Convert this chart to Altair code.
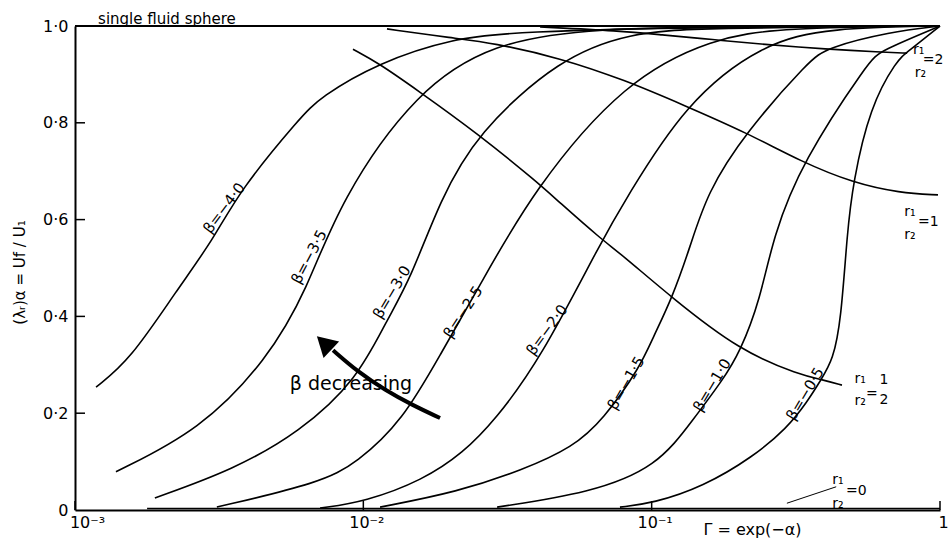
import altair as alt
import pandas as pd

PLOT_W, PLOT_H = 865, 484
FONT = "DejaVu Sans"
INK = "black"

# ---- axis ticks -------------------------------------------------------
x_tick_values = [0.001, 0.01, 0.1, 1.0]
x_tick_labels = ["10⁻³", "10⁻²", "10⁻¹", "1"]
y_tick_values = [0.0, 0.2, 0.4, 0.6, 0.8, 1.0]
y_tick_labels = ["0", "0·2", "0·4", "0·6", "0·8", "1·0"]

# ---- beta curves: log10(Γ) and (λr)α -------------------------------------
beta_names = ["β=−4·0", "β=−3·5", "β=−3·0", "β=−2·5",
              "β=−2·0", "β=−1·5", "β=−1·0", "β=−0·5"]

b40_lg = [-2.927, -2.809, -2.646, -2.521, -2.428, -2.220, -2.150, -1.949, -1.689, -1.464, -0.83, 0.0]
b40_v = [0.254, 0.310, 0.455, 0.558, 0.661, 0.810, 0.853, 0.924, 0.975, 0.988, 0.998, 1.0]

b35_lg = [-2.858, -2.566, -2.334, -2.195, -2.081, -1.814, -1.550, -1.214, -0.6, 0.0]
b35_v = [0.079, 0.165, 0.310, 0.455, 0.640, 0.868, 0.965, 0.996, 0.999, 1.0]

b30_lg = [-2.723, -2.452, -2.220, -2.022, -1.918, -1.838, -1.734, -1.606, -1.318, -1.075, -0.83, 0.0]
b30_v = [0.025, 0.083, 0.161, 0.269, 0.393, 0.475, 0.640, 0.779, 0.934, 0.986, 0.996, 1.0]

b25_lg = [-2.508, -2.150, -2.022, -1.862, -1.734, -1.595, -1.411, -1.092, -0.787, -0.555, 0.0]
b25_v = [0.006, 0.056, 0.097, 0.186, 0.320, 0.465, 0.661, 0.888, 0.975, 0.996, 1.0]

b20_lg = [-2.150, -1.994, -1.793, -1.654, -1.543, -1.387, -1.172, -1.092, -0.884, -0.614, -0.381, 0.0]
b20_v = [0.004, 0.017, 0.062, 0.118, 0.186, 0.310, 0.558, 0.640, 0.841, 0.965, 0.996, 1.0]

b15_lg = [-1.942, -1.675, -1.446, -1.273, -1.169, -1.040, -0.995, -0.929, -0.867, -0.808, -0.676, -0.451, -0.392, -0.174, 0.0]
b15_v = [0.006, 0.037, 0.083, 0.130, 0.186, 0.295, 0.357, 0.438, 0.543, 0.655, 0.779, 0.930, 0.955, 0.988, 1.0]

b10_lg = [-1.536, -1.214, -0.981, -0.857, -0.753, -0.694, -0.624, -0.579, -0.479, -0.243, -0.208, 0.0]
b10_v = [0.006, 0.035, 0.089, 0.186, 0.269, 0.326, 0.434, 0.564, 0.719, 0.930, 0.948, 1.0]

b05_lg = [-1.110, -0.995, -0.822, -0.648, -0.531, -0.461, -0.413, -0.371, -0.343, -0.322, -0.302, -0.243, -0.149, -0.114, 0.0]
b05_v = [0.006, 0.014, 0.048, 0.110, 0.169, 0.223, 0.269, 0.310, 0.393, 0.572, 0.676, 0.833, 0.930, 0.946, 1.0]

# ---- radius-ratio curves -------------------------------------------------
r2_lg = [-1.387, -1.110, -0.971, -0.787, -0.614, -0.392, -0.208, -0.114]
r2_v = [0.998, 0.990, 0.982, 0.972, 0.962, 0.952, 0.946, 0.944]

r1_lg = [-1.918, -1.689, -1.550, -1.318, -1.092, -0.891, -0.669, -0.479, -0.302, -0.139, -0.007]
r1_v = [0.994, 0.975, 0.965, 0.934, 0.888, 0.837, 0.779, 0.719, 0.676, 0.655, 0.651]

rhalf_lg = [-2.036, -1.949, -1.814, -1.606, -1.394, -1.328, -1.172, -1.110, -0.929, -0.694, -0.486, -0.406, -0.340]
rhalf_v = [0.952, 0.924, 0.868, 0.779, 0.676, 0.640, 0.558, 0.531, 0.438, 0.329, 0.279, 0.269, 0.258]

r0_lg = [-2.75, 0.0]
r0_v = [0.003, 0.003]

# single fluid sphere reference level
sphere_lg = [-3.0, 0.0]
sphere_v = [1.0, 1.0]

# ---- labels on the beta curves ------------------------------------------
beta_label_lg = [-2.483, -2.188, -1.901, -1.654, -1.363, -1.089, -0.791, -0.468]
beta_label_v = [0.624, 0.523, 0.450, 0.409, 0.372, 0.262, 0.258, 0.240]
beta_label_angle = [307, 298, 301, 303, 306, 300, 301, 301]

# ---- r1/r2 fraction labels ----------------------------------------------
frac_text = ["r₁", "r₂", "r₁", "r₂", "r₁", "r₂", "1", "2", "=", "r₁", "r₂"]
frac_lg = [-0.074, -0.068, -0.104, -0.104, -0.277, -0.277, -0.194, -0.194, -0.236, -0.354, -0.354]
frac_v = [0.950, 0.903, 0.616, 0.568, 0.271, 0.225, 0.269, 0.227, 0.240, 0.062, 0.012]
eq_text = ["=2", "=1", "=0"]
eq_lg = [-0.060, -0.076, -0.326]
eq_v = [0.930, 0.595, 0.039]
leader_lg = [-0.531, -0.360]
leader_v = [0.014, 0.048]

# ---- "β decreasing" arrow -----------------------------------------------
arrow_lg = [-1.734, -1.831, -1.925, -2.018, -2.105]
arrow_v = [0.190, 0.217, 0.248, 0.285, 0.330]
arrow_head_lg = [-2.136]
arrow_head_v = [0.345]


def frame(lg, v, **extra):
    df = pd.DataFrame({"g": [10 ** a for a in lg], "v": v})
    df["i"] = range(len(df))
    for k, val in extra.items():
        df[k] = val
    return df


beta_series = [(b40_lg, b40_v), (b35_lg, b35_v), (b30_lg, b30_v), (b25_lg, b25_v),
               (b20_lg, b20_v), (b15_lg, b15_v), (b10_lg, b10_v), (b05_lg, b05_v)]
ratio_series = {"r1/r2=2": (r2_lg, r2_v), "r1/r2=1": (r1_lg, r1_v),
                "r1/r2=1/2": (rhalf_lg, rhalf_v), "r1/r2=0": (r0_lg, r0_v)}

curve_df = pd.concat(
    [frame(lg, v, curve=name) for name, (lg, v) in zip(beta_names, beta_series)]
    + [frame(lg, v, curve=name) for name, (lg, v) in ratio_series.items()],
    ignore_index=True,
)

xscale = alt.Scale(type="log", domain=[0.001, 1.0], nice=False)
yscale = alt.Scale(domain=[0.0, 1.0], nice=False, zero=False)


def lookup_expr(values, labels):
    vals = ",".join(repr(float(v)) for v in values)
    labs = ",".join("'" + s + "'" for s in labels)
    return f"[{labs}][indexof([{vals}], datum.value)]"


xaxis = alt.Axis(
    values=x_tick_values, labelExpr=lookup_expr(x_tick_values, x_tick_labels),
    ticks=False, grid=False, domainColor=INK, domainWidth=2,
    labelFont=FONT, labelFontSize=16, labelColor=INK, labelPadding=4,
    labelFlush=False, labelOverlap=False,
    labelOffset={"condition": {"test": "datum.value < 0.005", "value": 12}, "value": 3},
    title="Γ = exp(−α)", titleFont=FONT, titleFontSize=16, titleFontWeight="normal",
    titleColor=INK, titleX=677, titleY=19, titleAlign="center", titleBaseline="middle",
)
yaxis = alt.Axis(
    values=y_tick_values, labelExpr=lookup_expr(y_tick_values, y_tick_labels),
    ticks=False, grid=False, domainColor=INK, domainWidth=2,
    labelFont=FONT, labelFontSize=16, labelColor=INK, labelPadding=7,
    labelFlush=False, labelOverlap=False,
    title="(λᵣ)α = Uf / U₁", titleFont=FONT, titleFontSize=15, titleFontWeight="normal",
    titleColor=INK, titleAngle=270, titleX=-56, titleY=246,
    titleAlign="center", titleBaseline="middle",
)

X = alt.X("g:Q", scale=xscale, axis=xaxis)
Y = alt.Y("v:Q", scale=yscale, axis=yaxis)

curves = alt.Chart(curve_df).mark_line(
    color=INK, strokeWidth=1.6, interpolate="basis"
).encode(x=X, y=Y, detail="curve:N", order="i:Q")

sphere = alt.Chart(frame(sphere_lg, sphere_v)).mark_line(
    color=INK, strokeWidth=2
).encode(x=X, y=Y)

# inward tick marks
x_tick_len = 9 / PLOT_H
y_tick_len = 10 / PLOT_W * 3  # decades spanned by a 10 px tick
xticks = alt.Chart(pd.DataFrame({"g": x_tick_values})).mark_rule(
    color=INK, strokeWidth=1.5
).encode(x=X, y=alt.datum(0.0), y2=alt.datum(x_tick_len))
yticks = alt.Chart(pd.DataFrame({"v": y_tick_values[1:-1]})).mark_rule(
    color=INK, strokeWidth=1.5
).encode(x=alt.datum(0.001), x2=alt.datum(0.001 * 10 ** y_tick_len), y=Y)

beta_labels = alt.Chart(frame(beta_label_lg, beta_label_v, t=beta_names, a=beta_label_angle)).mark_text(
    font=FONT, fontSize=15, color=INK, align="center", baseline="middle"
).encode(x=X, y=Y, text="t:N", angle=alt.Angle("a:Q", scale=None))

frac_labels = alt.Chart(frame(frac_lg, frac_v, t=frac_text)).mark_text(
    font=FONT, fontSize=14, color=INK, align="center", baseline="middle"
).encode(x=X, y=Y, text="t:N")

eq_labels = alt.Chart(frame(eq_lg, eq_v, t=eq_text)).mark_text(
    font=FONT, fontSize=14, color=INK, align="left", baseline="middle"
).encode(x=X, y=Y, text="t:N")

leader = alt.Chart(frame(leader_lg, leader_v)).mark_line(
    color=INK, strokeWidth=1
).encode(x=X, y=Y)

sphere_label = alt.Chart(frame([-2.920], [1.014], t=["single  fluid  sphere"])).mark_text(
    font=FONT, fontSize=15, color=INK, align="left", baseline="middle"
).encode(x=X, y=Y, text="t:N")

arrow_shaft = alt.Chart(frame(arrow_lg, arrow_v)).mark_line(
    color=INK, strokeWidth=4, interpolate="basis", strokeCap="butt"
).encode(x=X, y=Y, order="i:Q")

arrow_head = alt.Chart(frame(arrow_head_lg, arrow_head_v)).mark_point(
    shape="triangle-up", filled=True, color=INK, size=520, angle=313, opacity=1
).encode(x=X, y=Y)

arrow_text = alt.Chart(frame([-2.043], [0.260], t=["β decreasing"])).mark_text(
    font=FONT, fontSize=19, color=INK, align="center", baseline="middle"
).encode(x=X, y=Y, text="t:N")

chart = alt.layer(
    curves, sphere, xticks, yticks, leader, arrow_shaft, arrow_head,
    beta_labels, frac_labels, eq_labels, sphere_label, arrow_text,
).properties(
    width=PLOT_W, height=PLOT_H,
    autosize=alt.AutoSizeParams(type="none"),
    padding={"left": 75, "top": 26, "right": 8, "bottom": 34},
    background="white",
).configure_view(stroke=None)

chart.save("out.html", embed_options={"renderer": "svg", "actions": False})
